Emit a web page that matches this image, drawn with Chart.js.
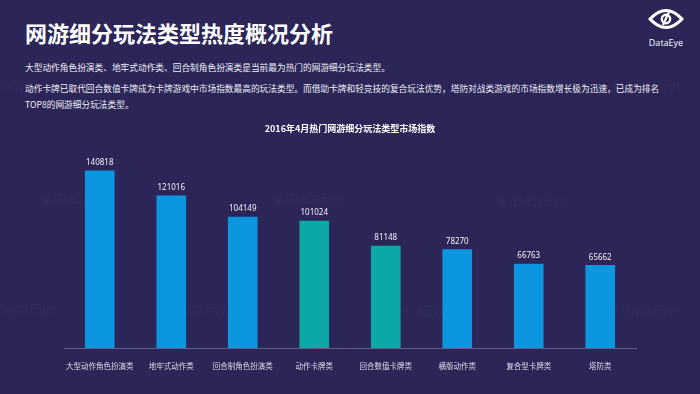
<!DOCTYPE html>
<html lang="zh">
<head>
    <meta charset="UTF-8">
    <title>chart</title>
    <script src="https://cdn.jsdelivr.net/npm/chart.js@4.4.0/dist/chart.umd.min.js"></script>
    <style>
        *{ box-sizing: border-box; }
        body{
            margin: 0;
            background: #2b2558;
            font-family: "Noto Sans CJK SC", "Noto Sans", sans-serif;
            color: #fff;
        }
        .page{
            position: relative;
            width: 700px;
            height: 394px;
            overflow: hidden;
        }
        .title{
            position: absolute;
            left: 25px;
            top: 21px;
            font-size: 22px;
            font-weight: bold;
            line-height: 1;
            margin: 0;
        }
        .txt{
            position: absolute;
            left: 25px;
            font-size: 8.7px;
            line-height: 1;
            margin: 0;
            color: #f0f0f6;
            white-space: nowrap;
        }
        .logo{
            position: absolute;
            left: 645px;
            top: 8px;
            width: 42px;
            text-align: center;
        }
        .logo span{
            display: block;
            font-size: 9px;
            line-height: 1;
            margin-top: 3px;
            font-family: "Open Sans", sans-serif;
        }
        .wm{
            position: absolute;
            font-size: 15px;
            font-family: "Open Sans", sans-serif;
            color: rgba(255,255,255,0.04);
            white-space: nowrap;
        }
        #canvas{
            position: absolute;
            left: 0;
            top: 0;
        }
    </style>
</head>
<body>
<div class="page">
    <div class="wm" style="left:40px;top:188px">◉ DataEye</div>
    <div class="wm" style="left:272px;top:188px">◉ DataEye</div>
    <div class="wm" style="left:495px;top:190px">◉ DataEye</div>
    <div class="wm" style="left:-20px;top:298px">◉ DataEye</div>
    <div class="wm" style="left:155px;top:298px">◉ DataEye</div>
    <div class="wm" style="left:373px;top:300px">◉ DataEye</div>
    <div class="wm" style="left:603px;top:300px">◉ DataEye</div>
    <div class="wm" style="left:-40px;top:74px">◉ DataEye</div>
    <div class="wm" style="left:610px;top:74px">◉ DataEye</div>

    <h1 class="title">网游细分玩法类型热度概况分析</h1>
    <p class="txt" style="top:64px">大型动作角色扮演类、地牢式动作类、回合制角色扮演类是当前最为热门的网游细分玩法类型。</p>
    <p class="txt" style="top:85px">动作卡牌已取代回合数值卡牌成为卡牌游戏中市场指数最高的玩法类型。而借助卡牌和轻竞技的复合玩法优势，塔防对战类游戏的市场指数增长极为迅速，已成为排名</p>
    <p class="txt" style="top:101px">TOP8的网游细分玩法类型。</p>

    <div class="logo">
        <svg width="36" height="22" viewBox="0 0 36 22">
            <path d="M2 11 Q18 -6 34 11 Q18 28 2 11 Z" fill="none" stroke="#fff" stroke-width="3.2" stroke-linejoin="round"/>
            <circle cx="18" cy="11" r="4.2" fill="none" stroke="#fff" stroke-width="2.4"/>
            <line x1="15" y1="17" x2="21" y2="4" stroke="#fff" stroke-width="2.2"/>
        </svg>
        <span>DataEye</span>
    </div>

    <canvas id="canvas" width="700" height="394"></canvas>
</div>

<script>
    // data
    var categories = ['大型动作角色扮演类', '地牢式动作类', '回合制角色扮演类', '动作卡牌类', '回合数值卡牌类', '横版动作类', '复合型卡牌类', '塔防类'];
    var marketIndex = [140818, 121016, 104149, 101024, 81148, 78270, 66763, 65662];
    var barColors = ['#0b96e0', '#0b96e0', '#0b96e0', '#0aa9a6', '#0aa9a6', '#0b96e0', '#0b96e0', '#0b96e0'];
    var chartTitle = '2016年4月热门网游细分玩法类型市场指数';

    // value labels above each bar
    var valueLabels = {
        id: 'valueLabels',
        afterDatasetsDraw: function(chart){
            var ctx = chart.ctx;
            var meta = chart.getDatasetMeta(0);
            ctx.save();
            ctx.fillStyle = '#f2f2f8';
            ctx.font = '8px "Noto Sans", sans-serif';
            ctx.textAlign = 'center';
            ctx.textBaseline = 'bottom';
            meta.data.forEach(function(bar, i){
                ctx.fillText(marketIndex[i], bar.x, bar.y - 4);
            });
            ctx.restore();
        }
    };

    var ctx = document.getElementById('canvas').getContext('2d');
    var myChart = new Chart(ctx, {
        type: 'bar',
        data: {
            labels: categories,
            datasets: [{
                label: '市场指数',
                data: marketIndex,
                backgroundColor: barColors,
                barThickness: 29
            }]
        },
        options: {
            responsive: false,
            animation: false,
            layout: {
                padding: { left: 64, right: 64, top: 123, bottom: 17 }
            },
            plugins: {
                legend: { display: false },
                tooltip: { enabled: false },
                title: {
                    display: true,
                    text: chartTitle,
                    color: '#ffffff',
                    font: { size: 9, weight: 'bold', family: '"Noto Sans CJK SC", sans-serif' },
                    padding: { top: 0, bottom: 13 }
                }
            },
            scales: {
                x: {
                    grid: { display: false },
                    border: { display: true, color: '#5f5c88', width: 1 },
                    ticks: {
                        color: '#dcdcea',
                        font: { size: 7.5, family: '"Noto Sans CJK SC", sans-serif' },
                        padding: 6,
                        maxRotation: 0,
                        autoSkip: false
                    }
                },
                y: {
                    display: false,
                    min: 0,
                    max: 160000
                }
            }
        },
        plugins: [valueLabels]
    });
</script>
</body>
</html>
